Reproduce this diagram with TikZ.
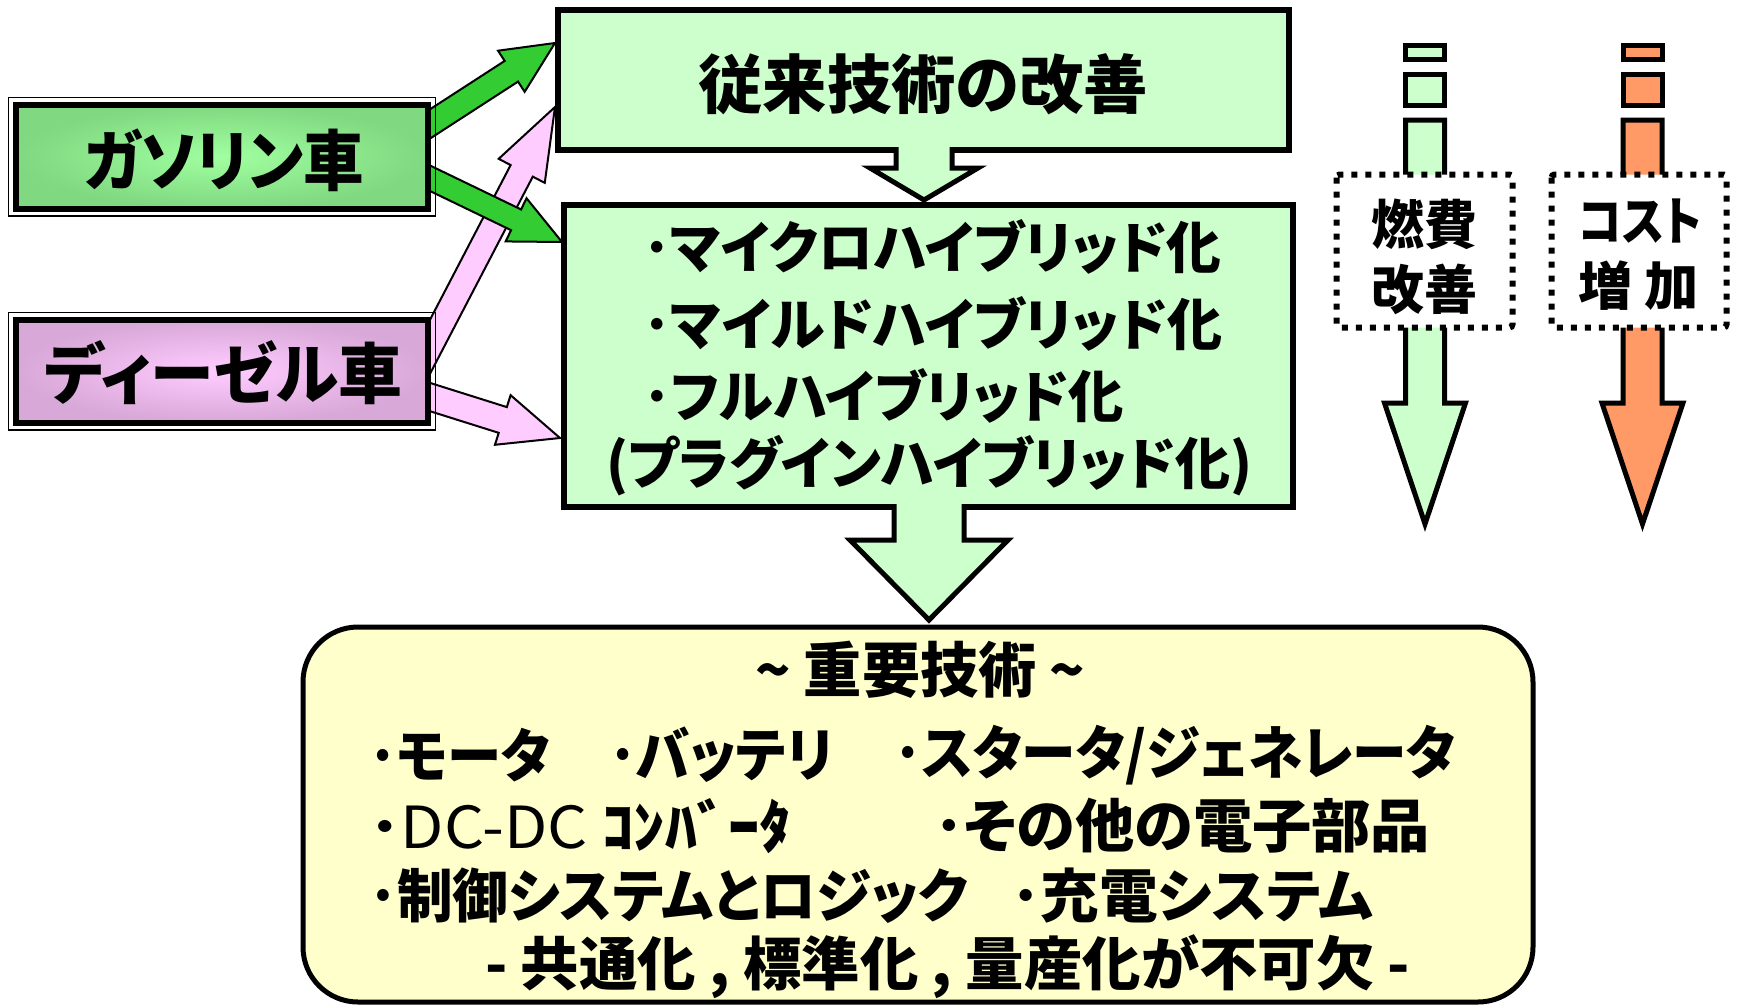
\documentclass[tikz,border=0pt]{standalone}
\usepackage{fontspec}
\usepackage{graphicx}
\setmainfont{Noto Sans CJK JP}[RawFeature=+palt]
\usetikzlibrary{calc}
\definecolor{boxgreen}{HTML}{CCFFCC}
\definecolor{boxyellow}{HTML}{FFFFCC}
\definecolor{arrgreen}{HTML}{33CC33}
\definecolor{arrpink}{HTML}{FFCCFF}
\definecolor{arrorange}{HTML}{FF9966}
\definecolor{gascenter}{HTML}{A0FFA0}
\definecolor{gasedge}{HTML}{80D880}
\definecolor{dieselcenter}{HTML}{FFCCFF}
\definecolor{dieseledge}{HTML}{D8A8D8}
\newcommand\fitw[2]{\resizebox{#1}{\height}{#2}}
% #1 start, #2 tip, #3 shaft half width, #4 head half width, #5 head length, #6 style
\newcommand\blockarrow[6]{%
  \coordinate (ba-h) at ($(#2)!#5!(#1)$);
  \draw[#6] ($(#1)!#3!90:(#2)$) -- ($(ba-h)!#3!90:(#2)$) -- ($(ba-h)!#4!90:(#2)$)
    -- (#2) -- ($(ba-h)!#4!-90:(#2)$) -- ($(ba-h)!#3!-90:(#2)$) -- ($(#1)!#3!-90:(#2)$) -- cycle;
}
\tikzset{
  thinarrow/.style={draw=black, line width=2pt, line join=miter},
  greenarrow/.style={thinarrow, fill=arrgreen},
  pinkarrow/.style={thinarrow, fill=arrpink},
  flowbox/.style={draw=black, line width=5.5pt, fill=boxgreen},
  bigarrow/.style={draw=black, line width=5pt, fill=boxgreen, line join=miter},
  dotbox/.style={draw=black, line width=6pt, dash pattern=on 6pt off 8pt, fill=white, rounded corners=3pt},
  txt/.style={inner sep=0pt, anchor=west, font=\bfseries\fontsize{#1pt}{#1pt}\selectfont},
  ctxt/.style={inner sep=0pt, anchor=center, font=\bfseries\fontsize{#1pt}{#1pt}\selectfont},
}
\begin{document}
\begin{tikzpicture}[x=1pt,y=-1pt]
\useasboundingbox (0,0) rectangle (1741,1007);
\fill[white] (0,0) rectangle (1741,1007);

% ---- slanted block arrows (behind the source boxes)
\coordinate (p1s) at (414.5,376.5); \coordinate (p1t) at (555,107);
\coordinate (p2s) at (414,392);     \coordinate (p2t) at (560,438);
\coordinate (g1s) at (416,133);     \coordinate (g1t) at (555,43);
\coordinate (g2s) at (415,171);     \coordinate (g2t) at (562,242);
\blockarrow{p1s}{p1t}{12.5pt}{26pt}{72pt}{pinkarrow}
\blockarrow{p2s}{p2t}{13.5pt}{26pt}{60pt}{pinkarrow}
\blockarrow{g1s}{g1t}{12.3pt}{24.5pt}{52pt}{greenarrow}
\blockarrow{g2s}{g2t}{11.5pt}{24pt}{51pt}{greenarrow}

% ---- source boxes
\draw[line width=1.5pt] (8.5,97.5) rectangle (435.5,216);
\shade[inner color=gascenter, outer color=gasedge] (16,105) rectangle (428,208.5);
\draw[line width=6pt] (16,105) rectangle (428,208.5);
\draw[line width=1.5pt] (8.5,312.5) rectangle (435.5,430);
\shade[inner color=dieselcenter, outer color=dieseledge] (16,319.5) rectangle (428,422.5);
\draw[line width=6pt] (16,319.5) rectangle (428,422.5);

% ---- target boxes
\draw[flowbox] (558,10) rectangle (1289,150);
\draw[flowbox] (564,205) rectangle (1293,507);
\draw[line width=5pt, fill=boxyellow, rounded corners=55pt] (303,627) rectangle (1533,1002);

% ---- vertical block arrows
\draw[bigarrow] (896,147) -- (896,168) -- (870,168) -- (924,200) -- (978,168) -- (952,168) -- (952,147);
\draw[bigarrow] (894,504) -- (894,540) -- (850,540) -- (929,620) -- (1008,540) -- (964,540) -- (964,504);

% ---- right-hand striped arrows
\draw[line width=5pt, fill=boxgreen] (1405.5,45) rectangle (1444.5,59);
\draw[line width=5pt, fill=boxgreen] (1405.5,74) rectangle (1444.5,105);
\draw[bigarrow] (1405.5,120) -- (1405.5,403) -- (1384.5,403) -- (1425,524) -- (1465.5,403) -- (1444.5,403) -- (1444.5,120) -- cycle;
\draw[line width=5pt, fill=arrorange] (1623,45) rectangle (1662,59);
\draw[line width=5pt, fill=arrorange] (1623,74) rectangle (1662,105);
\draw[bigarrow, fill=arrorange] (1623,120) -- (1623,403) -- (1602,403) -- (1642.5,524) -- (1683,403) -- (1662,403) -- (1662,120) -- cycle;
\draw[dotbox] (1336.5,174.5) rectangle (1512.5,327.5);
\draw[dotbox] (1551.5,174.5) rectangle (1726.5,327.5);

% ---- texts
\node[txt=66] (gas) at (84,160) {\fitw{280pt}{ガソリン車}};
\node[txt=66] (diesel) at (44,373) {\fitw{358pt}{ディーゼル車}};
\node[txt=64] (conv) at (698,84) {\fitw{450pt}{従来技術の改善}};
\node[txt=56] (m1) at (643,247) {\fitw{578pt}{･マイクロハイブリッド化}};
\node[txt=56] (m2) at (643,324) {\fitw{579pt}{･マイルドハイブリッド化}};
\node[txt=56] (m3) at (643,396) {\fitw{481pt}{･フルハイブリッド化}};
\node[txt=56] (m4) at (606,466) {\fitw{646pt}{(プラグインハイブリッド化)}};
\node[ctxt=53] (fuel1) at (1424,224) {燃費};
\node[ctxt=53] (fuel2) at (1424,289) {改善};
\node[txt=52] (cost1) at (1578,221) {\fitw{123pt}{コスト}};
\node[txt=52] (cost2) at (1578,286) {\fitw{121pt}{増 加}};
\node[txt=60] (title) at (755,670) {\fitw{330pt}{\textasciitilde\ 重要技術 \textasciitilde}};
\node[txt=58] (r1a) at (369,755) {\fitw{181pt}{･モータ}};
\node[txt=58] (r1b) at (609,755) {\fitw{224pt}{･バッテリ}};
\node[txt=58] (r1c) at (894,755) {\fitw{562pt}{･スタータ/ジェネレータ}};
\node[txt=58] (r2a) at (369,826) {\fitw{422pt}{･{\mdseries DC-DC} ｺﾝﾊﾞｰﾀ}};
\node[txt=58] (r2b) at (934,826) {\fitw{496pt}{･その他の電子部品}};
\node[txt=58] (r3a) at (369,896) {\fitw{599pt}{･制御システムとロジック}};
\node[txt=58] (r3b) at (1011,896) {\fitw{362pt}{･充電システム}};
\node[txt=58] (r4) at (485,967) {\fitw{925pt}{- 共通化 , 標準化 , 量産化が不可欠 -}};
\end{tikzpicture}
\end{document}
